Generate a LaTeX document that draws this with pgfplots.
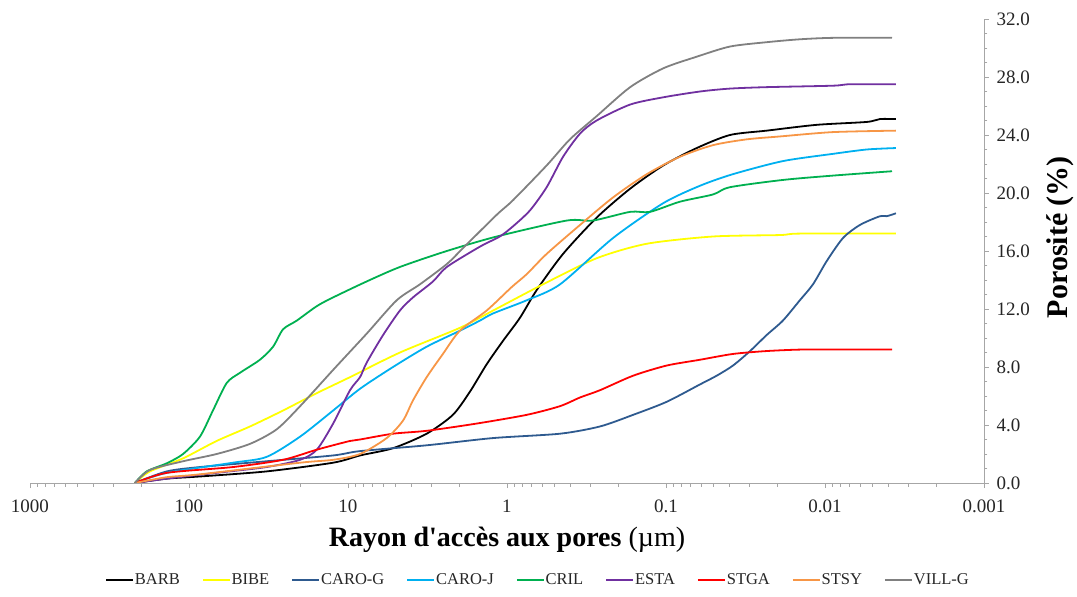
\documentclass[border=0pt]{standalone}
\usepackage{fontspec}
\setmainfont{Liberation Serif}
\usepackage{pgfplots}
\pgfplotsset{compat=1.18}

\definecolor{cBARB}{HTML}{000000}
\definecolor{cBIBE}{HTML}{FFFF00}
\definecolor{cCAROG}{HTML}{2E5A8F}
\definecolor{cCAROJ}{HTML}{00B0F0}
\definecolor{cCRIL}{HTML}{00B050}
\definecolor{cESTA}{HTML}{7030A0}
\definecolor{cSTGA}{HTML}{FF0000}
\definecolor{cSTSY}{HTML}{F79646}
\definecolor{cVILL}{HTML}{808080}
\definecolor{axisgray}{HTML}{A6A6A6}

\begin{document}
\begin{tikzpicture}
\useasboundingbox (-30pt,-114pt) rectangle (1047pt,483pt);
\begin{axis}[
    scale only axis,
    width=954pt, height=464pt,
    xmode=log, x dir=reverse,
    xmin=0.001, xmax=1000,
    ymin=0, ymax=32,
    axis x line=bottom, axis y line=right,
    axis line style={-, draw=axisgray, line width=0.8pt},
    tick style={draw=axisgray, line width=0.8pt},
    tick align=outside,
    major tick length=5pt, minor tick length=3.5pt,
    xtick={0.001,0.01,0.1,1,10,100,1000},
    xticklabels={0.001,0.01,0.1,1,10,100,1000},
    ytick={0,4,...,32},
    minor y tick num=3,
    yticklabel style={xshift=4pt, /pgf/number format/.cd, fixed, fixed zerofill, precision=1, assume math mode=true},
    xticklabel style={yshift=-8pt},
    tick label style={font=\fontsize{19}{22}\selectfont, text=black!85},
    xlabel={\textbf{Rayon d\textquotesingle accès aux pores} (µm)},
    xlabel style={font=\fontsize{28}{32}\selectfont, at={(axis description cs:0.5,-0.123)}, anchor=center},
    ylabel={\textbf{Porosité (\%)}},
    ylabel style={font=\fontsize{30}{34}\selectfont, at={(axis description cs:1.08,0.53)}, anchor=center, rotate=0},
    legend columns=9,
    legend style={at={(axis description cs:0.532,-0.209)}, anchor=center, draw=none,
        font=\fontsize{16.5}{19}\selectfont, text=black!85,
        nodes={inner xsep=1pt, inner ysep=2pt},
        /tikz/every even column/.append style={column sep=21pt}},
    legend image code/.code={\draw[#1] (0pt,0pt) -- (27pt,0pt);},
    every axis plot/.append style={line width=1.8pt, smooth, tension=0.45},
]
% BARB
\addplot[cBARB] coordinates {
(219,0) (138,0.3) (85.3,0.45) (32.5,0.8) (12.4,1.4) (8.40,1.9) (5.21,2.4) (3.20,3.4)
(2.19,4.7) (1.71,6.3) (1.34,8.2) (1.06,9.8) (0.828,11.4) (0.651,13.3) (0.444,15.8)
(0.273,18.3) (0.168,20.3) (0.104,21.9) (0.0641,23.1) (0.0396,24.0) (0.0233,24.3)
(0.0113,24.7) (0.00547,24.9) (0.00451,25.1) (0.00358,25.1)};
\addlegendentry{BARB}
% BIBE
\addplot[cBIBE] coordinates {
(219,0) (176,0.8) (109,1.7) (67.0,2.9) (41.3,3.9) (25.6,5.0) (15.7,6.2) (9.71,7.3)
(4.71,9.0) (1.98,10.7) (1.22,11.9) (0.594,13.7) (0.273,15.5) (0.132,16.5)
(0.0506,17.0) (0.0192,17.1) (0.0144,17.2) (0.00358,17.2)};
\addlegendentry{BIBE}
% CARO-G
\addplot[cCAROG] coordinates {
(219,0) (138,0.8) (85.3,1.1) (32.5,1.5) (12.4,1.9) (8.40,2.2) (3.20,2.6) (1.22,3.1)
(0.464,3.4) (0.260,3.9) (0.161,4.7) (0.099,5.6) (0.0611,6.8) (0.0480,7.4) (0.0379,8.1)
(0.0296,9.1) (0.0233,10.2) (0.0184,11.2) (0.0144,12.6) (0.0119,13.7) (0.00976,15.3)
(0.00770,16.9) (0.00602,17.8) (0.00451,18.4) (0.00409,18.4) (0.00358,18.6)};
\addlegendentry{CARO-G}
% CARO-J
\addplot[cCAROJ] coordinates {
(219,0) (138,0.7) (52.9,1.4) (32.5,1.8) (20.0,3.2) (12.4,5.0) (8.40,6.5) (5.21,8.0)
(3.20,9.4) (1.98,10.5) (1.48,11.2) (1.22,11.7) (0.752,12.6) (0.464,13.7) (0.215,16.9)
(0.104,19.3) (0.0611,20.5) (0.0379,21.3) (0.0184,22.2) (0.00891,22.7) (0.00547,23.0)
(0.00358,23.1)};
\addlegendentry{CARO-J}
% CRIL
\addplot[cCRIL] coordinates {
(219,0) (184.5,0.8) (138,1.36) (109,2.0) (85.3,3.2) (70.7,5.0) (57.9,6.9) (47.8,7.6)
(35.8,8.5) (29.6,9.4) (25.6,10.6) (21.0,11.2) (15.7,12.2) (12.4,12.8) (7.63,13.9)
(4.71,14.9) (2.39,16.0) (1.16,17.0) (0.421,18.1) (0.288,18.1) (0.168,18.7)
(0.126,18.7) (0.0817,19.4) (0.0506,19.9) (0.0396,20.4) (0.0184,20.9)
(0.00891,21.2) (0.00379,21.5)};
\addlegendentry{CRIL}
% ESTA
\addplot[cESTA] coordinates {
(219,0) (138,0.3) (67.0,0.7) (32.5,1.1) (20.0,1.6) (15.7,2.3) (12.4,4.1) (9.71,6.4)
(8.40,7.3) (7.63,8.3) (6.02,10.2) (4.71,11.9) (3.90,12.8) (2.92,13.9) (2.39,14.9)
(1.48,16.3) (1.11,17.0) (0.917,17.7) (0.717,18.8) (0.563,20.4) (0.444,22.5)
(0.347,24.1) (0.273,25.0) (0.168,26.1) (0.104,26.6) (0.0611,27.0) (0.0396,27.2)
(0.0233,27.3) (0.00891,27.4) (0.00696,27.5) (0.00358,27.5)};
\addlegendentry{ESTA}
% STGA
\addplot[cSTGA] coordinates {
(219,0) (138,0.7) (52.9,1.1) (25.6,1.6) (15.7,2.3) (9.71,2.9) (8.40,3.0) (5.21,3.4)
(3.20,3.6) (1.55,4.1) (0.752,4.7) (0.464,5.3) (0.347,5.9) (0.260,6.4) (0.161,7.4)
(0.099,8.1) (0.0611,8.5) (0.0379,8.9) (0.0233,9.1) (0.0144,9.2) (0.00891,9.2)
(0.00379,9.2)};
\addlegendentry{STGA}
% STSY
\addplot[cSTSY] coordinates {
(219,0) (138,0.4) (85.3,0.6) (20.0,1.4) (12.4,1.6) (8.40,2.0) (5.71,3.1) (4.51,4.3)
(3.90,5.7) (3.20,7.3) (2.53,8.9) (1.98,10.5) (1.34,11.9) (0.937,13.5) (0.752,14.4)
(0.563,15.8) (0.347,17.8) (0.215,19.7) (0.132,21.3) (0.0817,22.5) (0.0506,23.3)
(0.0311,23.7) (0.0192,23.9) (0.00891,24.2) (0.00358,24.3)};
\addlegendentry{STSY}
% VILL-G
\addplot[cVILL] coordinates {
(219,0) (176,0.9) (109,1.5) (67.0,2.0) (41.3,2.7) (28.1,3.7) (20.0,5.3) (12.4,7.8)
(7.63,10.3) (4.94,12.6) (3.53,13.7) (2.39,15.1) (1.89,16.2) (1.16,18.5) (0.917,19.5)
(0.563,21.9) (0.402,23.7) (0.273,25.3) (0.168,27.3) (0.104,28.6) (0.0641,29.4)
(0.0396,30.1) (0.0233,30.4) (0.0144,30.6) (0.00891,30.7) (0.00379,30.7)};
\addlegendentry{VILL-G}
\end{axis}
\end{tikzpicture}
\end{document}
